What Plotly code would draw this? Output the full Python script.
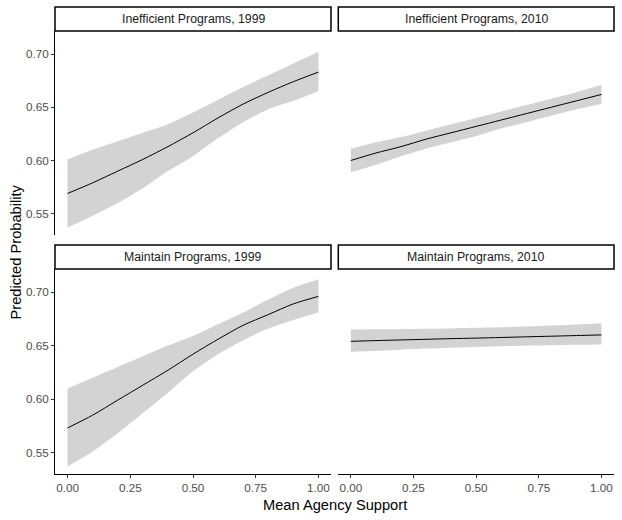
import plotly.graph_objects as go

# ---- data ----
x_vals = [0.0, 0.1, 0.2, 0.3, 0.4, 0.5, 0.6, 0.7, 0.8, 0.9, 1.0]
panel_titles = ["Inefficient Programs, 1999", "Inefficient Programs, 2010",
                "Maintain Programs, 1999", "Maintain Programs, 2010"]

ineff99_fit = [0.569, 0.579, 0.590, 0.601, 0.613, 0.626, 0.640, 0.653, 0.664, 0.674, 0.683]
ineff99_hi = [0.601, 0.610, 0.618, 0.626, 0.634, 0.645, 0.657, 0.669, 0.680, 0.691, 0.702]
ineff99_lo = [0.537, 0.548, 0.560, 0.574, 0.590, 0.604, 0.621, 0.636, 0.648, 0.656, 0.665]

ineff10_fit = [0.600, 0.607, 0.613, 0.620, 0.626, 0.632, 0.638, 0.644, 0.650, 0.656, 0.662]
ineff10_hi = [0.611, 0.617, 0.622, 0.628, 0.634, 0.640, 0.646, 0.652, 0.658, 0.664, 0.671]
ineff10_lo = [0.589, 0.596, 0.604, 0.611, 0.617, 0.623, 0.630, 0.636, 0.642, 0.648, 0.653]

maint99_fit = [0.573, 0.585, 0.599, 0.613, 0.627, 0.642, 0.656, 0.669, 0.679, 0.689, 0.696]
maint99_hi = [0.610, 0.620, 0.630, 0.640, 0.650, 0.659, 0.670, 0.681, 0.693, 0.704, 0.712]
maint99_lo = [0.537, 0.551, 0.568, 0.587, 0.606, 0.626, 0.642, 0.655, 0.666, 0.674, 0.681]

maint10_fit = [0.6540, 0.6547, 0.6553, 0.6559, 0.6565, 0.6570, 0.6576, 0.6582, 0.6588, 0.6594, 0.6600]
maint10_hi = [0.6650, 0.6652, 0.6654, 0.6657, 0.6661, 0.6666, 0.6671, 0.6679, 0.6688, 0.6698, 0.6710]
maint10_lo = [0.6440, 0.6451, 0.6462, 0.6472, 0.6481, 0.6488, 0.6494, 0.6499, 0.6503, 0.6507, 0.6510]

y_ticks = [0.55, 0.60, 0.65, 0.70]
x_ticks = [0.0, 0.25, 0.50, 0.75, 1.00]

W, H = 622, 520
FONT = "Liberation Sans, Arial, sans-serif"

# panel pixel boxes (left, right, top, bottom)
boxes = [
    (55, 331, 31, 235),
    (338.3, 614, 31, 235),
    (55, 331, 269, 474),
    (338.3, 614, 269, 474),
]
strip_boxes = [(55, 331, 7, 31), (338.3, 614, 7, 31), (55, 331, 245, 269), (338.3, 614, 245, 269)]

series = [
    (ineff99_fit, ineff99_hi, ineff99_lo),
    (ineff10_fit, ineff10_hi, ineff10_lo),
    (maint99_fit, maint99_hi, maint99_lo),
    (maint10_fit, maint10_hi, maint10_lo),
]

fig = go.Figure()
layout = dict(
    width=W, height=H,
    margin=dict(l=0, r=0, t=0, b=0),
    paper_bgcolor="white", plot_bgcolor="white",
    showlegend=False,
    font=dict(family=FONT, color="#4D4D4D", size=11.7),
)
shapes = []
annotations = []

for i, ((fit, hi, lo), (l, r, t, b)) in enumerate(zip(series, boxes)):
    n = i + 1
    xa = "x" if n == 1 else f"x{n}"
    ya = "y" if n == 1 else f"y{n}"
    fig.add_trace(go.Scatter(
        x=x_vals, y=lo, mode="lines",
        line=dict(width=0, shape="spline", smoothing=0.8, color="#D3D3D3"),
        xaxis=xa, yaxis=ya, hoverinfo="skip"))
    fig.add_trace(go.Scatter(
        x=x_vals, y=hi, mode="lines", fill="tonexty", fillcolor="#D3D3D3",
        line=dict(width=0, shape="spline", smoothing=0.8, color="#D3D3D3"),
        xaxis=xa, yaxis=ya, hoverinfo="skip"))
    fig.add_trace(go.Scatter(
        x=x_vals, y=fit, mode="lines",
        line=dict(color="black", width=1, shape="spline", smoothing=0.8),
        xaxis=xa, yaxis=ya))
    bottom_row = i >= 2
    left_col = i % 2 == 0
    xkey = "xaxis" if n == 1 else f"xaxis{n}"
    ykey = "yaxis" if n == 1 else f"yaxis{n}"
    layout[xkey] = dict(
        domain=[l / W, r / W], anchor=ya, range=[-0.05, 1.05],
        showgrid=False, zeroline=False,
        showline=bottom_row, linecolor="black", linewidth=1,
        ticks="outside" if bottom_row else "", ticklen=3, tickcolor="#333333",
        tickvals=x_ticks, tickformat=".2f", showticklabels=bottom_row,
        tickfont=dict(size=11.7, color="#4D4D4D"),
    )
    layout[ykey] = dict(
        domain=[1 - b / H, 1 - t / H], anchor=xa, range=[0.53, 0.7216],
        showgrid=False, zeroline=False,
        showline=left_col, linecolor="black", linewidth=1,
        ticks="outside" if left_col else "", ticklen=3, tickcolor="#333333",
        tickvals=y_ticks, tickformat=".2f", showticklabels=left_col,
        tickfont=dict(size=11.7, color="#4D4D4D"),
    )

for title, (l, r, t, b) in zip(panel_titles, strip_boxes):
    shapes.append(dict(type="rect", xref="paper", yref="paper",
                       x0=l / W, x1=r / W, y0=1 - b / H, y1=1 - t / H,
                       line=dict(color="black", width=1.5), fillcolor="white"))
    annotations.append(dict(text=title, xref="paper", yref="paper",
                            x=(l + r) / 2 / W, y=1 - (t + b) / 2 / H,
                            showarrow=False, xanchor="center", yanchor="middle",
                            font=dict(size=12.3, color="#1A1A1A", family=FONT)))

annotations.append(dict(text="Mean Agency Support", xref="paper", yref="paper",
                        x=334.5 / W, y=1 - 505 / H, showarrow=False,
                        xanchor="center", yanchor="middle",
                        font=dict(size=14.67, color="black", family=FONT)))
annotations.append(dict(text="Predicted Probability", xref="paper", yref="paper",
                        x=15 / W, y=1 - 252.5 / H, showarrow=False, textangle=-90,
                        xanchor="center", yanchor="middle",
                        font=dict(size=14.67, color="black", family=FONT)))

layout["shapes"] = shapes
layout["annotations"] = annotations
fig.update_layout(**layout)
fig.write_html("out.html", config={"displayModeBar": False},
               post_script="document.body.style.margin='0';document.body.style.overflow='hidden';")
